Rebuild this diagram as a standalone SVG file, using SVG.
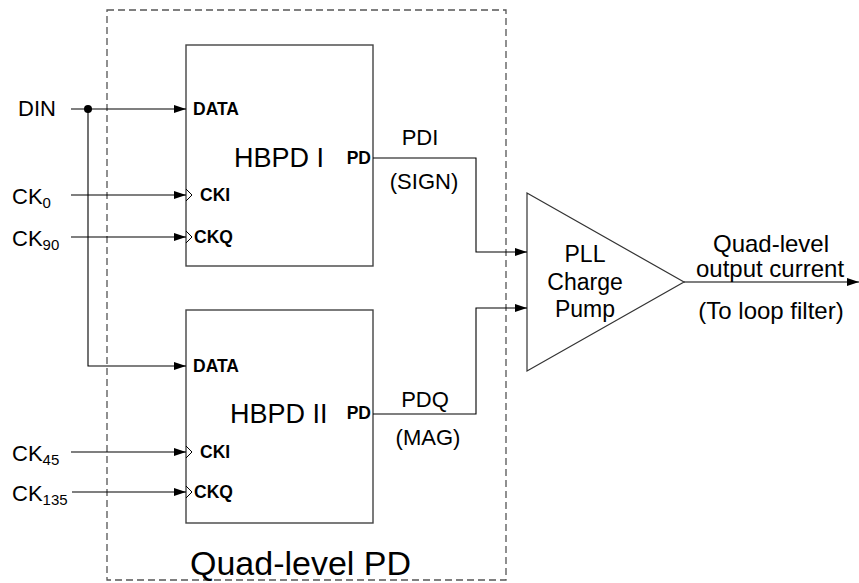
<svg xmlns="http://www.w3.org/2000/svg" width="859" height="583" viewBox="0 0 859 583">
  <style>
    text { font-family: "Liberation Sans", Arial, sans-serif; fill: #000; }
    .box { fill: none; stroke: #444; stroke-width: 1.4; }
    .wire { fill: none; stroke: #000; stroke-width: 1.1; }
    .clk { fill: none; stroke: #000; stroke-width: 1; }
    .pin { font-size: 17.5px; font-weight: bold; }
    .big { font-size: 27px; }
    .lbl { font-size: 22px; }
    .rt { font-size: 23px; text-anchor: middle; }
    .sub { font-size: 15px; }
  </style>
  <defs>
    <marker id="arr" viewBox="0 0 12 8" refX="12" refY="4" markerWidth="12" markerHeight="8" markerUnits="userSpaceOnUse" orient="auto">
      <path d="M0,0 L12,4 L0,8 Z" fill="#000"/>
    </marker>
  </defs>

  <!-- phase detector enclosure -->
  <g id="quad-pd">
    <rect x="107" y="10" width="399" height="570" fill="none" stroke="#555" stroke-width="1.3" stroke-dasharray="7,4"/>
    <text x="190" y="575" style="font-size:34px">Quad-level PD</text>
  </g>

  <!-- HBPD I -->
  <g id="hbpd1">
    <rect class="box" x="186" y="45" width="187" height="221"/>
    <text class="big" x="234" y="167">HBPD I</text>
    <text class="pin" x="193" y="115">DATA</text>
    <text class="pin" x="200" y="201">CKI</text>
    <text class="pin" x="194" y="243">CKQ</text>
    <text class="pin" x="371" y="164" text-anchor="end">PD</text>
    <path class="clk" d="M186,189 L192,195 L186,201"/>
    <path class="clk" d="M186,231 L192,237 L186,243"/>
  </g>

  <!-- HBPD II -->
  <g id="hbpd2">
    <rect class="box" x="186" y="310" width="187" height="213"/>
    <text class="big" x="230" y="423">HBPD II</text>
    <text class="pin" x="193" y="372">DATA</text>
    <text class="pin" x="200" y="458">CKI</text>
    <text class="pin" x="194" y="498">CKQ</text>
    <text class="pin" x="371" y="419" text-anchor="end">PD</text>
    <path class="clk" d="M186,446 L192,452 L186,458"/>
    <path class="clk" d="M186,486 L192,492 L186,498"/>
  </g>

  <!-- charge pump -->
  <g id="charge-pump">
    <path d="M527,193 L684,282 L527,371 Z" fill="none" stroke="#333" stroke-width="1.2"/>
    <text class="rt" x="585" y="262">PLL</text>
    <text class="rt" x="585" y="290">Charge</text>
    <text class="rt" x="585" y="317">Pump</text>
  </g>

  <!-- input labels -->
  <g id="inputs">
    <text class="lbl" x="18" y="116">DIN</text>
    <text class="lbl" x="12" y="204">CK<tspan class="sub" dy="4">0</tspan></text>
    <text class="lbl" x="12" y="246">CK<tspan class="sub" dy="4">90</tspan></text>
    <text class="lbl" x="12" y="461">CK<tspan class="sub" dy="4">45</tspan></text>
    <text class="lbl" x="12" y="501">CK<tspan class="sub" dy="4">135</tspan></text>
  </g>

  <!-- signal labels -->
  <g id="signal-labels">
    <text class="lbl" x="420" y="145" text-anchor="middle">PDI</text>
    <text class="lbl" x="424" y="189" text-anchor="middle">(SIGN)</text>
    <text class="lbl" x="425" y="407" text-anchor="middle">PDQ</text>
    <text class="lbl" x="428" y="445" text-anchor="middle">(MAG)</text>
    <text class="rt" x="771" y="252" style="font-size:24px">Quad-level</text>
    <text class="rt" x="770" y="277" style="font-size:24px">output current</text>
    <text class="rt" x="771" y="319" style="font-size:24px">(To loop filter)</text>
  </g>

  <!-- connectors -->
  <g id="connectors">
    <path class="wire" d="M71,109 L186,109" marker-end="url(#arr)"/>
    <circle cx="88" cy="109" r="4" fill="#000"/>
    <path class="wire" d="M88,109 L88,366 L186,366" marker-end="url(#arr)"/>
    <path class="wire" d="M71,195 L186,195" marker-end="url(#arr)"/>
    <path class="wire" d="M71,237 L186,237" marker-end="url(#arr)"/>
    <path class="wire" d="M71,452 L186,452" marker-end="url(#arr)"/>
    <path class="wire" d="M72,492 L186,492" marker-end="url(#arr)"/>
    <path class="wire" d="M373,158 L476,158 L476,252 L527,252" marker-end="url(#arr)"/>
    <path class="wire" d="M373,414 L476,414 L476,308 L527,308" marker-end="url(#arr)"/>
    <path class="wire" d="M684,282 L859,282" marker-end="url(#arr)"/>
  </g>
</svg>
